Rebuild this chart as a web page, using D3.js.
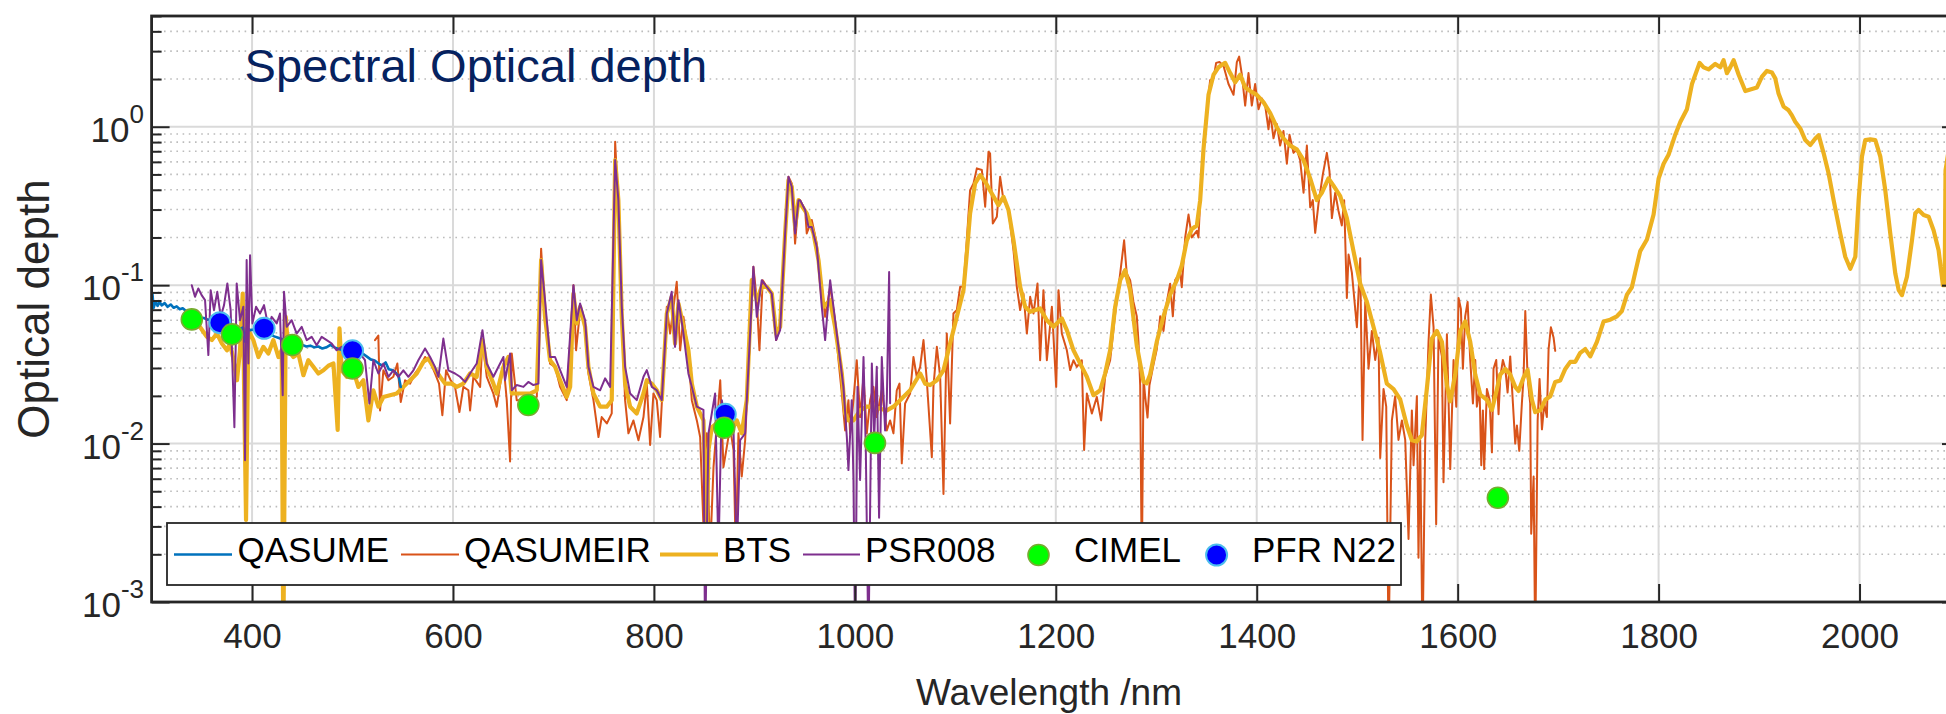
<!DOCTYPE html>
<html>
<head>
<meta charset="utf-8">
<script src="https://cdn.jsdelivr.net/npm/d3@7"></script>
<style>
  html, body { margin: 0; padding: 0; background: #ffffff; }
  svg { display: block; font-family: "Liberation Sans", Arial, Helvetica, sans-serif; }
</style>
</head>
<body>
<svg id="chart" width="1946" height="714"></svg>
<script>
// ---- spectral optical depth, [wavelength nm, tau] ----
const qasume = [[300,.062],[300.8,.0886],[302,.072],[304,.079],[306,.074],[308,.0785],[310,.0745],[313,.077],[316,.073],[319,.0755],[322,.072],[325,.0735],[328,.0705],[331,.0715],[334,.069],[337,.0675],[340,.0655],[344,.064],[348,.0625],[352,.062],[356,.0605],[360,.061],[364,.059],[368,.0575],[372,.0565],[376,.056],[380,.0545],[384,.0555],[388,.053],[391,.054],[393,.044],[395,.0535],[398,.052],[402,.0525],[406,.051],[410,.0505],[414,.0495],[418,.049],[422,.0475],[426,.0465],[430,.0455],[434,.046],[438,.0445],[442,.043],[446,.0425],[450,.042],[454,.041],[458,.0415],[462,.0405],[466,.041],[470,.0398],[474,.0405],[478,.042],[482,.0405],[486,.0395],[490,.039],[494,.0382],[498,.0378],[502,.0375],[506,.0368],[510,.037],[514,.0355],[518,.034],[522,.0335],[526,.032],[530,.031],[533,.0325],[536,.0295],[540,.029],[543,.028],[546,.0265],[548,.0228]];

const qasumeIR = [[522.4,.045],[525.7,.048],[527.4,.0162],[530.7,.029],[535.7,.0251],[540.6,.0264],[544.6,.032],[548,.0183],[552.3,.0251],[557.3,.0239],[562.2,.0277],[567.2,.0305],[572.2,.0352],[577.2,.0328],[582.1,.0277],[586.1,.0239],[589.4,.0151],[593.1,.029],[597.7,.0251],[602,.0228],[606.4,.0158],[610.3,.0228],[615.3,.0217],[617,.0162],[620.3,.0264],[627,.0228],[629.3,.045],[633.6,.0264],[640.2,.0207],[643.5,.0171],[650.2,.032],[653.5,.0188],[656.8,.0077],[658.5,.037],[663.4,.0188],[670.1,.0188],[676.7,.0188],[683.4,.0197],[687.7,.17],[691.6,.0662],[696.6,.032],[701.6,.0305],[706.6,.0228],[713.2,.0188],[719.9,.1],[722.5,.0388],[726.5,.0697],[731.5,.0546],[734.8,.0277],[739.8,.0188],[744.8,.011],[748,.0147],[753.1,.0134],[758,.0155],[761.4,.804],[764.6,.312],[768,.0631],[771.3,.0188],[774.6,.0116],[779.6,.014],[784.6,.0105],[789.6,.0147],[792.9,.0239],[796.2,.0098],[799.5,.0207],[802.8,.0188],[806.1,.011],[812.8,.073],[816.1,.0495],[822.7,.105],[826.1,.0388],[829.4,.0631],[834.3,.037],[837.7,.0188],[842.7,.014],[846,.011],[849.3,.003],[852.6,.0116],[855.9,.002],[859.3,.0071],[866,.0251],[869.2,.0071],[875.8,.0127],[879.2,.0091],[881.5,.002],[884.1,.0116],[887.4,.0062],[890.8,.0105],[894.1,.0305],[899,.1306],[902.4,.0804],[905,.0388],[908.3,.1075],[912.3,.0976],[917.3,.0886],[921.6,.045],[925.6,.0546],[930.6,.212],[933.9,.483],[937.2,.439],[940.5,.183],[943.9,.344],[945.5,.344],[950.5,.298],[952.1,.212],[957.1,.258],[962.1,.183],[967.1,.0976],[970.4,.0631],[975.4,.0976],[980.3,.0601],[983.7,.0336],[987,.0207],[990.3,.0121],[993.6,.0188],[995.3,.0116],[998.6,.0188],[1001.9,.0336],[1005.2,.0147],[1008.6,.0264],[1011.9,.0116],[1015.2,.0188],[1018.5,.0228],[1021.8,.0147],[1026.8,.0217],[1031.8,.0121],[1035.1,.014],[1038.4,.0116],[1041.7,.0217],[1044.4,.0239],[1046.7,.0075],[1050,.0179],[1055,.0207],[1058.3,.0352],[1061.6,.0264],[1065,.0305],[1068.3,.045],[1071.6,.0251],[1076.6,.0082],[1078.2,.0228],[1081.6,.0408],[1084.9,.0264],[1088.2,.0048],[1091.5,.0495],[1094.8,.0134],[1098.1,.0662],[1101.5,.0697],[1104.8,.0976],[1108.1,.0976],[1111.4,.192],[1114.7,.398],[1118.1,.439],[1121.4,.546],[1126.4,.533],[1129.7,.313],[1133,.695],[1134.6,.679],[1137.3,.245],[1141.3,.27],[1144.6,.483],[1147.9,.344],[1152.9,.298],[1157.9,.166],[1161.2,.0976],[1164.5,.0697],[1167.8,.0886],[1171.2,.0495],[1174.5,.0844],[1177.8,.0662],[1181.8,.1025],[1184.4,.0336],[1187.7,.093],[1191.1,.0336],[1196.1,.073],[1200.4,.0228],[1202.7,.093],[1206,.0495],[1211,.0388],[1214.3,.0291],[1217.6,.0336],[1220.9,.0305],[1225.9,.0336],[1228.2,.0091],[1230.9,.0207],[1235.9,.0155],[1240.8,.0197],[1245.1,.014],[1249.1,.0264],[1254.1,.0336],[1259.1,.0662],[1264.1,.1185],[1268,.192],[1270.6,.1185],[1274,.1076],[1277.3,.0784],[1280.6,.0636],[1282.3,.0439],[1284,.0233],[1285.6,.0015],[1287.3,.0262],[1288.9,.0199],[1291.3,.0146],[1293.2,.0233],[1297.2,.0315],[1300.5,.0394],[1303.9,.0636],[1307.2,.0514],[1310.5,.0784],[1313.8,.102],[1316.5,.0636],[1318.8,.1076],[1323.8,.12],[1325.4,.097],[1328.8,.2],[1332.1,.279],[1335.4,.2],[1340.4,.22],[1342,.2],[1344.4,.425],[1347,.8],[1350.3,1.22],[1353.6,1.97],[1357,2.02],[1359.6,2.53],[1362.9,2.56],[1366.9,2.43],[1371.9,1.86],[1376.9,1.59],[1380.2,2.56],[1382.5,2.77],[1385.2,2.13],[1388.5,1.36],[1391.8,2.18],[1395.1,1.36],[1398.4,1.86],[1401.8,1.29],[1405.1,1.51],[1408.4,1.36],[1411.7,.963],[1413.4,1.22],[1416.7,.845],[1420,1.04],[1423.3,.76],[1426.6,.94],[1430,.584],[1432.6,.891],[1436.6,.684],[1439.9,.72],[1443.2,.615],[1446.6,.383],[1449.9,.76],[1453.2,.31],[1455.8,.344],[1458.2,.214],[1461.5,.328],[1465.8,.5],[1469.8,.684],[1472.4,.525],[1474.8,.265],[1478.1,.383],[1481.4,.294],[1484.7,.238],[1487,.344],[1489.7,.083],[1491.4,.156],[1494.7,.12],[1499.7,.0543],[1503,.148],[1505.3,.01055],[1508,.0784],[1511.3,.0297],[1514.6,.0514],[1517.9,.0337],[1521.2,.0465],[1522.9,.0081],[1526.2,.0221],[1528.9,.0171],[1531.2,.0005],[1534.5,.014],[1537.8,.0199],[1541.1,.01055],[1544.5,.014],[1547.8,.01055],[1551.1,.0025],[1554.4,.0162],[1556.1,.0073],[1559.4,.0199],[1561,.0019],[1562.7,.01055],[1565,.0005],[1567.7,.01055],[1571,.0439],[1573.3,.0872],[1576,.0543],[1578.6,.0031],[1580.9,.0465],[1584.3,.0355],[1585.9,.0057],[1589.3,.049],[1592.6,.0069],[1595.9,.0337],[1598.6,.0171],[1600.9,.083],[1603.2,.0708],[1605.2,.0297],[1607.5,.0636],[1609.9,.0784],[1612.5,.0337],[1615.2,.0179],[1617.5,.0337],[1619.1,.0171],[1621.8,.0221],[1623.5,.0073],[1625.1,.0162],[1626.4,.0069],[1629.1,.0221],[1631.8,.0189],[1634.1,.0088],[1635.7,.0297],[1638.4,.0337],[1640.7,.0153],[1642.4,.0262],[1645,.0337],[1647.4,.0297],[1649.7,.021],[1652.3,.0355],[1655,.0179],[1657.3,.01],[1659,.013],[1661.3,.009],[1663.9,.0179],[1665.6,.0262],[1667.3,.0686],[1669.6,.0262],[1672.2,.0179],[1673.2,.0027],[1675.6,.0062],[1677.2,.0005],[1679.6,.014],[1681.5,.0256],[1683.9,.0123],[1686.2,.0179],[1688.8,.0147],[1690.5,.0394],[1692.8,.0543],[1695.5,.0465],[1697.1,.0385]];

const bts = [[335,.06],[338.2,.0586],[348,.0546],[355,.0472],[360,.045],[365,.0495],[370,.0428],[375,.0388],[378,.0428],[381,.0352],[385,.0251],[388,.0388],[390.7,.0886],[394,.0033],[396.3,.052],[401.3,.045],[406.3,.0352],[411.2,.0408],[416.2,.037],[421.2,.045],[426.2,.0352],[429.5,.0388],[431.1,.0005],[433.5,.0631],[436.1,.0388],[441.1,.0352],[446.1,.037],[451.1,.027],[456,.0336],[461,.0305],[466,.0277],[471,.029],[476,.031],[481,.032],[485.2,.0122],[487,.0533],[489.2,.029],[494.2,.0264],[500.8,.029],[505.8,.0228],[510.8,.0251],[515.8,.014],[520.7,.0217],[525.7,.0171],[530.7,.0197],[537.3,.0202],[544,.0207],[550.6,.0228],[557.3,.0251],[563.9,.0277],[570.5,.0328],[575.5,.0344],[580.5,.0305],[587.1,.0264],[592.1,.0239],[598.7,.0239],[603.7,.0228],[610.3,.0239],[617,.0277],[623.6,.0264],[629.3,.045],[633.6,.0305],[640.2,.0239],[643.5,.0207],[650.2,.0305],[655.1,.0352],[658.5,.0207],[663.4,.0207],[670.1,.0207],[676.7,.0207],[683.4,.0217],[687.7,.144],[691.6,.0631],[696.6,.0336],[701.6,.0305],[706.6,.0251],[713.2,.0197],[716.6,.0228],[719.9,.0886],[723.2,.0573],[726.5,.073],[731.5,.0546],[734.8,.0305],[739.8,.0207],[746.4,.0171],[753.1,.0171],[758,.0188],[761.4,.616],[764.6,.344],[768,.0631],[771.3,.0239],[776.3,.0171],[782.9,.0155],[789.6,.0207],[792.9,.0251],[797.9,.0239],[802.8,.0217],[807.8,.0188],[812.8,.0662],[817.7,.0844],[821,.0428],[824.4,.0766],[829.4,.0546],[834.3,.0388],[837.7,.0239],[842.7,.0171],[849.3,.014],[852.6,.0025],[854.3,.0091],[857.6,.0127],[862.6,.0134],[869.2,.0121],[875.8,.0116],[882.5,.014],[887.4,.0116],[892.4,.0188],[897.4,.1075],[902.4,.0804],[907.3,.0976],[912.3,.0976],[917.3,.0886],[921.6,.0495],[925.6,.0546],[930.6,.212],[933.9,.46],[937.2,.418],[940.5,.233],[943.9,.344],[945.5,.328],[952.1,.284],[958.8,.212],[963.8,.144],[968.7,.073],[975.4,.0804],[980.3,.0546],[983.7,.0388],[987,.0277],[990.3,.0155],[993.6,.014],[998.6,.014],[1005.2,.0162],[1011.9,.0171],[1018.5,.0171],[1025.1,.0166],[1031.8,.0162],[1038.4,.0171],[1045,.0188],[1055,.0217],[1065,.0277],[1069.9,.0239],[1074.9,.0234],[1081.6,.0251],[1088.2,.029],[1094.8,.0428],[1101.5,.0631],[1108.1,.093],[1111.4,.158],[1114.7,.284],[1119.7,.439],[1124.7,.495],[1129.7,.45],[1136.3,.379],[1142.9,.32],[1147.9,.361],[1152.9,.298],[1157.9,.192],[1164.5,.0976],[1169.5,.073],[1174.5,.0679],[1184.4,.0713],[1191.1,.0601],[1197.7,.0546],[1206,.0616],[1211,.052],[1217.6,.0388],[1225.9,.0305],[1230.9,.0264],[1237.5,.0202],[1244.2,.0217],[1249.1,.0277],[1254.1,.0388],[1259.1,.073],[1264.1,.1075],[1269,.1244],[1274,.093],[1280.6,.0416],[1287.3,.0246],[1290.6,.024],[1293.9,.0273],[1300.5,.0439],[1307.2,.0636],[1313.8,.0872],[1320.5,.1076],[1325.4,.133],[1330.4,.192],[1335.4,.226],[1340.4,.238],[1343.7,.344],[1347,.72],[1352,1.59],[1357,2.13],[1361.9,2.37],[1368.6,2.53],[1373.6,2.18],[1378.5,1.91],[1383.5,2.13],[1388.5,1.77],[1393.5,1.68],[1400.1,1.59],[1406.7,1.43],[1413.4,1.22],[1420,.99],[1426.6,.845],[1433.3,.76],[1439.9,.72],[1446.6,.615],[1453.2,.472],[1459.8,.344],[1464.8,.383],[1471.4,.472],[1476.4,.425],[1483.1,.365],[1489.7,.265],[1496.3,.164],[1503,.102],[1509.6,.0784],[1516.2,.0546],[1522.9,.0374],[1529.5,.0239],[1536.2,.0221],[1542.8,.019],[1549.4,.013],[1554.4,.0105],[1559.3,.0103],[1564.3,.0113],[1569.3,.0221],[1574.3,.046],[1579.3,.0514],[1584.3,.0439],[1589.3,.0233],[1592.6,.0185],[1597.6,.0273],[1602.6,.0514],[1607.5,.059],[1612.5,.0439],[1617.5,.0273],[1622.5,.0204],[1629.1,.0189],[1634.1,.0163],[1639.1,.0221],[1642.4,.0273],[1647.4,.0296],[1652.3,.0273],[1657.3,.0228],[1660.6,.0215],[1665.6,.0261],[1669.6,.0292],[1673.9,.0189],[1677.2,.0158],[1682.2,.0162],[1687.2,.0189],[1692.2,.0199],[1697.1,.0245],[1702.1,.025],[1707.1,.0296],[1712.1,.0328],[1717.1,.0328],[1722,.0374],[1727,.0395],[1732,.0355],[1738.6,.0439],[1745.3,.059],[1751.9,.0605],[1758.5,.0636],[1763.5,.0687],[1768.5,.0872],[1773.4,.097],[1776.7,.12],[1781.7,.164],[1788.4,.194],[1795,.279],[1800,.47],[1805,.584],[1809.9,.665],[1816.6,.891],[1821.6,1.07],[1828.2,1.29],[1833.2,1.86],[1840.8,2.53],[1844.8,2.37],[1849.8,2.3],[1856.4,2.49],[1861.4,2.37],[1864.7,2.63],[1868,2.18],[1871.3,2.37],[1874.7,2.63],[1879.7,2.13],[1886.3,1.68],[1891.3,1.72],[1897.9,1.77],[1902.9,2.07],[1907.8,2.25],[1912.8,2.2],[1916.1,2.02],[1919.4,1.62],[1924.4,1.34],[1929.4,1.27],[1932.7,1.18],[1936,1.075],[1941,.976],[1946,.824],[1951,.766],[1956,.844],[1959.3,.885],[1964.3,.679],[1969.2,.507],[1974.2,.344],[1980.8,.212],[1985.8,.151],[1990.8,.127],[1995.8,.151],[1999.1,.344],[2002.4,.647],[2005.7,.824],[2010.7,.832],[2015.7,.824],[2020.7,.647],[2025.6,.398],[2030.6,.212],[2035.6,.1185],[2039,.093],[2042.2,.0865],[2047.2,.113],[2052.2,.192],[2055.5,.284],[2058.8,.298],[2063.8,.277],[2068.8,.27],[2073.7,.222],[2078.7,.166],[2083,.1],[2084.7,.1],[2085.6,.53],[2090,.8]];

const psr008 = [[340,.1],[343.2,.0844],[346.5,.0953],[349.8,.0865],[353.2,.0804],[356.5,.0362],[358.8,.093],[362.1,.0695],[365.4,.0908],[368.8,.0631],[372.1,.0748],[375.4,.1025],[378.7,.0695],[382.4,.0127],[384.7,.1025],[388,.0601],[391.3,.073],[393,.00785],[394.6,.144],[396.3,.032],[398,.1545],[400.3,.0573],[404,.073],[407.9,.0662],[411.9,.0748],[416.2,.0546],[419.5,.0631],[424.5,.0573],[427.8,.0662],[430.5,.0202],[431.8,.0908],[434.5,.0546],[439.4,.0601],[444.4,.0495],[449.4,.0546],[454.4,.045],[459.3,.0472],[464.3,.0418],[469.3,.0472],[474.3,.045],[479.3,.0428],[484.2,.0388],[489.2,.0408],[494.2,.0352],[500.8,.0336],[507.5,.037],[512.4,.0336],[516.8,.0179],[520.7,.0336],[525.7,.0277],[530.7,.032],[535.7,.0264],[540.6,.029],[545.6,.0264],[550.6,.029],[555.6,.0264],[560.6,.029],[565.5,.0336],[572.2,.0398],[577.2,.0352],[582.1,.0305],[585.5,.0264],[590.4,.046],[595.4,.029],[602,.0277],[607,.0264],[612,.0245],[617,.0277],[623.6,.032],[629.3,.052],[633.6,.032],[640.2,.0264],[650.2,.0352],[651.8,.0251],[656.8,.037],[658.5,.0217],[663.4,.0234],[670.1,.0228],[675,.0245],[680,.0234],[685,.0239],[687.7,.144],[691.6,.0804],[696.6,.0352],[701.6,.0352],[706.6,.0291],[713.2,.0228],[719.9,.1],[723.2,.0601],[726.5,.0766],[731.5,.0601],[734.8,.0305],[739.8,.0228],[746.4,.0217],[751.4,.0258],[756.4,.0228],[761.4,.616],[764.6,.344],[768,.073],[771.3,.0305],[776.3,.0207],[782.9,.0188],[789.6,.0264],[792.9,.0291],[797.9,.0228],[802.8,.0217],[807.8,.0188],[812.8,.0662],[817.7,.0908],[821,.0408],[824.4,.0804],[829.4,.0495],[834.3,.0277],[837.7,.0228],[842.7,.0171],[849.3,.0163],[850.9,.0005],[854.3,.0116],[857.6,.0155],[860.9,.0207],[864.2,.002],[867.6,.0188],[872.6,.0116],[879.2,.0121],[882.5,.002],[885.8,.0105],[890.8,.0116],[894.1,.0305],[899,.1306],[902.4,.0631],[907.3,.1075],[912.3,.0976],[917.3,.0886],[921.6,.045],[925.6,.052],[930.6,.212],[933.9,.483],[937.2,.418],[940.5,.212],[943.9,.344],[945.5,.344],[950.5,.298],[953.8,.233],[957.1,.233],[962.1,.175],[967.1,.073],[970.4,.045],[975.4,.1075],[978.7,.073],[982,.0495],[985.3,.0336],[988.6,.0228],[992,.011],[993.6,.0068],[996.9,.0188],[998.6,.0059],[1000.3,.0005],[1002.6,.0228],[1005.2,.0059],[1008.6,.0352],[1010.9,.0091],[1013.5,.0005],[1016.9,.032],[1019.2,.0105],[1021.8,.0305],[1024.1,.0034],[1026.8,.0352],[1030.1,.0121],[1031.8,.0188],[1034.1,.121],[1035.1,.018]];

// sun-photometer channels
const cimelNm  = [340, 380, 440, 500, 675, 870, 1020, 1640];
const cimelTau = [0.0608, 0.0489, 0.0419, 0.0298, 0.0175, 0.0126, 0.0101, 0.00455];
const pfrNm    = [368, 412, 500, 871];
const pfrTau   = [0.058, 0.0534, 0.0385, 0.0153];

const seriesNames = ["QASUME", "QASUMEIR", "BTS", "PSR008", "CIMEL", "PFR N22"];
const xTickValues = [400, 600, 800, 1000, 1200, 1400, 1600, 1800, 2000];
const yTickValues = [1e-3, 1e-2, 1e-1, 1];

// ---- layout ----
const svg = d3.select("#chart");
const X0 = 151.6, X1 = 1960, Y0 = 16, Y1 = 602;
const x = d3.scaleLinear().domain([300, 2100]).range([X0, X1]);
const y = d3.scaleLog().domain([1e-3, 5]).range([Y1, Y0]);

const ink = "#262626";
const colors = {
  QASUME: "#0072BD", QASUMEIR: "#D95319", BTS: "#EDB120", PSR008: "#7E2F8E"
};

const isDecade = v => Math.abs(Math.log10(v) - Math.round(Math.log10(v))) < 1e-6;
const minorY = y.ticks().filter(v => !isDecade(v));

// ---- grid ----
const grid = svg.append("g");
grid.selectAll("line.minor").data(minorY.filter(v => y(v) > Y0 + 1)).join("line")
  .attr("x1", X0).attr("x2", X1)
  .attr("y1", d => y(d)).attr("y2", d => y(d))
  .attr("stroke", "#bcbcbc").attr("stroke-width", 1.6)
  .attr("stroke-dasharray", "1.6,4.6");
grid.selectAll("line.hmaj").data(yTickValues.filter(v => v > 1e-3)).join("line")
  .attr("x1", X0).attr("x2", X1)
  .attr("y1", d => y(d)).attr("y2", d => y(d))
  .attr("stroke", "#dadada").attr("stroke-width", 2);
grid.selectAll("line.vmaj").data(xTickValues).join("line")
  .attr("x1", d => x(d)).attr("x2", d => x(d))
  .attr("y1", Y0).attr("y2", Y1)
  .attr("stroke", "#dadada").attr("stroke-width", 2);

// ---- data ----
svg.append("clipPath").attr("id", "plotClip")
  .append("rect").attr("x", X0).attr("y", Y0).attr("width", X1 - X0).attr("height", Y1 - Y0);
const plot = svg.append("g").attr("clip-path", "url(#plotClip)");

const line = d3.line().x(d => x(d[0])).y(d => y(d[1]));
const drawSeries = (data, color, width) =>
  plot.append("path").datum(data).attr("d", line)
    .attr("fill", "none").attr("stroke", color).attr("stroke-width", width)
    .attr("stroke-linejoin", "round").attr("stroke-linecap", "round");

drawSeries(qasumeIR, colors.QASUMEIR, 2);
drawSeries(bts, colors.BTS, 4.2);
drawSeries(qasume, colors.QASUME, 2.6);
drawSeries(psr008, colors.PSR008, 2);

plot.selectAll("circle.pfr").data(d3.zip(pfrNm, pfrTau)).join("circle")
  .attr("cx", d => x(d[0])).attr("cy", d => y(d[1])).attr("r", 10.5)
  .attr("fill", "#0000FF").attr("stroke", "#4DBEEE").attr("stroke-width", 2);
plot.selectAll("circle.cimel").data(d3.zip(cimelNm, cimelTau)).join("circle")
  .attr("cx", d => x(d[0])).attr("cy", d => y(d[1])).attr("r", 10.5)
  .attr("fill", "#00FF00").attr("stroke", "#77AC30").attr("stroke-width", 1.6);

// ---- axes ----
const styleAxis = g => {
  g.select(".domain").remove();
  g.selectAll(".tick line").attr("stroke", ink).attr("stroke-width", 2);
};
svg.append("g").attr("transform", `translate(0,${Y1})`)
  .call(d3.axisBottom(x).tickValues(xTickValues).tickSize(-18).tickPadding(21).tickFormat(d3.format("d")))
  .call(styleAxis)
  .call(g => g.selectAll("text").attr("fill", ink).attr("font-size", 35)
    .attr("font-family", "'Liberation Sans', Arial, sans-serif"));
svg.append("g").attr("transform", `translate(0,${Y0})`)
  .call(d3.axisTop(x).tickValues(xTickValues).tickSize(-18).tickFormat(""))
  .call(styleAxis);
[[X0, d3.axisLeft], [X1, d3.axisRight]].forEach(([pos, axisFn]) => {
  svg.append("g").attr("transform", `translate(${pos},0)`)
    .call(axisFn(y).tickValues(yTickValues).tickSize(-18).tickFormat(""))
    .call(styleAxis);
  svg.append("g").attr("transform", `translate(${pos},0)`)
    .call(axisFn(y).tickValues(minorY).tickSize(-10).tickFormat(""))
    .call(styleAxis);
});

// decade labels 10^n
const yLab = svg.append("g").attr("fill", ink);
yTickValues.forEach(v => {
  const t = yLab.append("text").attr("x", 144).attr("y", y(v) + 15)
    .attr("text-anchor", "end").attr("font-size", 35);
  t.append("tspan").text("10");
  t.append("tspan").attr("dy", -19).attr("font-size", 26)
    .text(String(Math.round(Math.log10(v))));
});

// plot frame
svg.append("rect").attr("x", X0).attr("y", Y0).attr("width", X1 - X0).attr("height", Y1 - Y0)
  .attr("fill", "none").attr("stroke", ink).attr("stroke-width", 2.8);

// ---- labels ----
svg.append("text").attr("x", 1049).attr("y", 705).attr("text-anchor", "middle")
  .attr("font-size", 37).attr("fill", ink).text("Wavelength /nm");
svg.append("text").attr("transform", "translate(49,309) rotate(-90)").attr("text-anchor", "middle")
  .attr("font-size", 44).attr("fill", ink).text("Optical depth");
svg.append("text").attr("x", 244.6).attr("y", 81.7).attr("font-size", 47)
  .attr("fill", "#06225f").text("Spectral Optical depth");

// ---- legend ----
const lg = svg.append("g");
lg.append("rect").attr("x", 167).attr("y", 523).attr("width", 1234).attr("height", 62)
  .attr("fill", "#ffffff").attr("stroke", ink).attr("stroke-width", 1.8);
const lineItems = [
  { name: seriesNames[0], color: colors.QASUME,   w: 2.6, x1: 174, x2: 232, tx: 237.5 },
  { name: seriesNames[1], color: colors.QASUMEIR, w: 2,   x1: 401, x2: 459, tx: 464 },
  { name: seriesNames[2], color: colors.BTS,      w: 4.2, x1: 660, x2: 718, tx: 723 },
  { name: seriesNames[3], color: colors.PSR008,   w: 2,   x1: 803, x2: 860, tx: 865 }
];
lineItems.forEach(it => {
  lg.append("line").attr("x1", it.x1).attr("x2", it.x2).attr("y1", 554.5).attr("y2", 554.5)
    .attr("stroke", it.color).attr("stroke-width", it.w);
  lg.append("text").attr("x", it.tx).attr("y", 562).attr("font-size", 35).attr("fill", "#000").text(it.name);
});
const markerItems = [
  { name: seriesNames[4], fill: "#00FF00", stroke: "#77AC30", sw: 1.6, cx: 1038.5, tx: 1074 },
  { name: seriesNames[5], fill: "#0000FF", stroke: "#4DBEEE", sw: 2,   cx: 1216.6, tx: 1252 }
];
markerItems.forEach(it => {
  lg.append("circle").attr("cx", it.cx).attr("cy", 555).attr("r", 10.5)
    .attr("fill", it.fill).attr("stroke", it.stroke).attr("stroke-width", it.sw);
  lg.append("text").attr("x", it.tx).attr("y", 562).attr("font-size", 35).attr("fill", "#000").text(it.name);
});
</script>
</body>
</html>
